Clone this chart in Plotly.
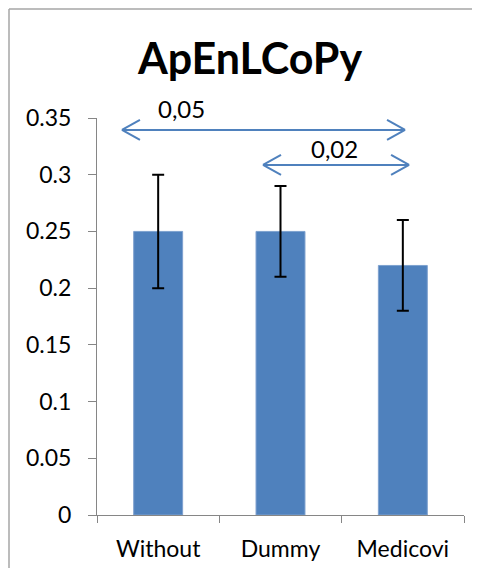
import plotly.graph_objects as go

categories = ["Without", "Dummy", "Medicovi"]
means = [0.25, 0.25, 0.22]
errors = [0.05, 0.04, 0.04]
y_ticks = [0, 0.05, 0.1, 0.15, 0.2, 0.25, 0.3, 0.35]
y_tick_labels = ["0", "0.05", "0.1", "0.15", "0.2", "0.25", "0.3", "0.35"]

# comparison arrows: (start index, end index, level, label)
comp_starts = [-0.296, 0.857]
comp_ends = [2.018, 2.051]
comp_levels = [0.3395, 0.3086]
comp_labels = ["0,05", "0,02"]
comp_label_x = [0.2316, 0.6458]   # paper fraction of plot width
comp_label_y = [1.0227, 0.9244]   # paper fraction of plot height

# page has an 8px body margin, figure sized to fit inside the 484x580 window
W, H = 464, 560
ML, MR, MT, MB = 89, 8, 110, 53
PW = W - ML - MR
PH = H - MT - MB

BLUE = "#4F81BD"
AX = "#868686"
FONT = "Lato"

fig = go.Figure()
fig.add_trace(go.Bar(
    x=categories, y=means, width=0.4,
    marker=dict(color=BLUE, line=dict(color="#7EA1CF", width=1)),
    error_y=dict(type="data", array=errors, visible=True,
                 color="black", thickness=2, width=6),
))

shapes = []
dx = 18 / (PW / 3)
dy = 10 / (PH / 0.35)
for x0, x1, yv in zip(comp_starts, comp_ends, comp_levels):
    segs = [
        (x0, yv, x1, yv),
        (x0, yv, x0 + dx, yv + dy),
        (x0, yv, x0 + dx, yv - dy),
        (x1, yv, x1 - dx, yv + dy),
        (x1, yv, x1 - dx, yv - dy),
    ]
    for a, b, c, d in segs:
        shapes.append(dict(type="line", xref="x", yref="y", x0=a, y0=b, x1=c, y1=d,
                           line=dict(color=BLUE, width=2)))

# outer chart border (only left and top edges are visible)
bx0 = (1 - ML) / PW
by1 = 1 + (MT - 1) / PH
by0 = -MB / PH
bx1 = 1 + MR / PW
border = dict(color="#A6A6A6", width=1.5)
shapes.append(dict(type="line", xref="paper", yref="paper", x0=bx0, y0=by0, x1=bx0, y1=by1,
                   line=border, layer="below"))
shapes.append(dict(type="line", xref="paper", yref="paper", x0=bx0, y0=by1, x1=bx1, y1=by1,
                   line=border, layer="below"))

annotations = []
for tx, ty, lab in zip(comp_label_x, comp_label_y, comp_labels):
    annotations.append(dict(x=tx, y=ty, xref="paper", yref="paper", text=lab, showarrow=False,
                            xanchor="center", yanchor="middle",
                            font=dict(family=FONT, size=24, color="black")))

fig.update_layout(
    width=W, height=H, autosize=False,
    margin=dict(l=ML, r=MR, t=MT, b=MB, pad=0),
    paper_bgcolor="white", plot_bgcolor="white",
    showlegend=False,
    title=dict(text="<b>ApEnLCoPy</b>", x=242 / W, xanchor="center", xref="container",
               y=1 - 51 / H, yanchor="middle", yref="container",
               font=dict(family=FONT, size=43, color="black")),
    shapes=shapes,
    annotations=annotations,
    font=dict(family=FONT, size=23, color="black"),
    xaxis=dict(type="category", range=[-0.5, 2.5], tickson="boundaries",
               ticks="outside", ticklen=7, tickcolor=AX, tickwidth=1,
               showline=True, linecolor=AX, linewidth=1, showgrid=False,
               automargin=False, ticklabelstandoff=13,
               tickfont=dict(family=FONT, size=23, color="black")),
    yaxis=dict(range=[0, 0.35], tickvals=y_ticks, ticktext=y_tick_labels,
               ticks="outside", ticklen=8, tickcolor=AX, tickwidth=1,
               showline=True, linecolor=AX, linewidth=1, showgrid=False, zeroline=False,
               automargin=False, ticklabelstandoff=12,
               tickfont=dict(family=FONT, size=23, color="black")),
    bargap=0.6,
)

fig.write_html("out.html")
